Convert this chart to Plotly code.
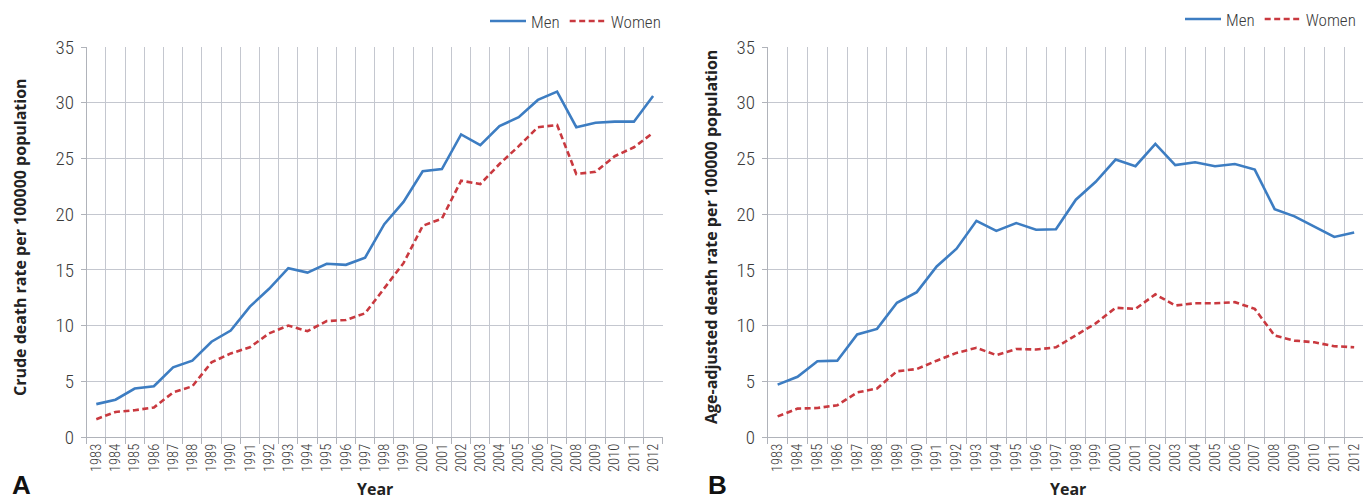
import plotly.graph_objects as go

# ---------------- data ----------------
years = ["1983", "1984", "1985", "1986", "1987", "1988", "1989", "1990", "1991", "1992",
         "1993", "1994", "1995", "1996", "1997", "1998", "1999", "2000", "2001", "2002",
         "2003", "2004", "2005", "2006", "2007", "2008", "2009", "2010", "2011", "2012"]

crude_men = [2.95, 3.35, 4.35, 4.55, 6.25, 6.85, 8.55, 9.55, 11.7, 13.3,
             15.15, 14.75, 15.55, 15.45, 16.1, 19.1, 21.1, 23.85, 24.05, 27.15,
             26.2, 27.9, 28.7, 30.25, 31.0, 27.8, 28.2, 28.3, 28.3, 30.6]
crude_women = [1.6, 2.25, 2.4, 2.65, 4.0, 4.55, 6.7, 7.5, 8.05, 9.3,
               10.0, 9.5, 10.4, 10.5, 11.1, 13.4, 15.6, 18.95, 19.6, 23.0,
               22.7, 24.5, 26.1, 27.8, 28.0, 23.6, 23.8, 25.2, 26.0, 27.3]

adj_men = [4.7, 5.4, 6.8, 6.85, 9.2, 9.7, 12.05, 13.0, 15.3, 16.9,
           19.4, 18.5, 19.2, 18.6, 18.65, 21.3, 22.9, 24.9, 24.3, 26.3,
           24.4, 24.65, 24.3, 24.5, 24.0, 20.45, 19.8, 18.9, 17.95, 18.35]
adj_women = [1.85, 2.55, 2.6, 2.85, 4.0, 4.35, 5.9, 6.1, 6.85, 7.55,
             8.0, 7.35, 7.9, 7.85, 8.05, 9.1, 10.2, 11.6, 11.5, 12.8,
             11.8, 12.0, 12.0, 12.1, 11.5, 9.1, 8.65, 8.5, 8.15, 8.05]

series_names = ["Men", "Women"]
y_ticks = [0, 5, 10, 15, 20, 25, 30, 35]
y_title_a = "Crude death rate per 100000 population"
y_title_b = "Age-adjusted death rate per 100000 population"
x_title = "Year"
panel_labels = ["A", "B"]

# ---------------- style ----------------
W, H = 1363, 499
PLOT_TOP, PLOT_BOTTOM = 47, 437
BLUE = "#3d7dc2"
RED = "#c9393f"
GRID = "#c4c7cf"
AXIS = "#b0b3ba"
TXT = "#3a3a3a"
COND = "Roboto Condensed, DejaVu Sans Condensed, sans-serif"
BOLD = "Open Sans, Noto Sans, DejaVu Sans, sans-serif"


def px_x(p):
    return p / W


def py_paper(p):
    # pixel row -> paper fraction of the plotting band between margins
    return (PLOT_BOTTOM - p) / (PLOT_BOTTOM - PLOT_TOP)


fig = go.Figure()

panels = [
    (crude_men, crude_women, "x", "y", "legend"),
    (adj_men, adj_women, "x2", "y2", "legend2"),
]
for men, women, xa, ya, lg in panels:
    fig.add_trace(go.Scatter(x=years, y=men, mode="lines", name=series_names[0],
                             line=dict(color=BLUE, width=2.6),
                             xaxis=xa, yaxis=ya, legend=lg))
    fig.add_trace(go.Scatter(x=years, y=women, mode="lines", name=series_names[1],
                             line=dict(color=RED, width=2.6, dash="6px,3.5px"),
                             xaxis=xa, yaxis=ya, legend=lg))

xcommon = dict(
    type="category", tickson="boundaries", showgrid=True, gridcolor=GRID, gridwidth=1,
    showline=True, linecolor=AXIS, linewidth=1, ticks="outside", ticklen=6,
    tickcolor=AXIS, tickangle=-90,
    tickfont=dict(family=COND, size=14.5, color=TXT, weight=300),
    zeroline=False, fixedrange=True, automargin=False,
)
ycommon = dict(
    range=[0, 35], tickvals=y_ticks, showgrid=True, gridcolor=GRID, gridwidth=1,
    showline=True, linecolor=AXIS, linewidth=1, ticks="outside", ticklen=5,
    tickcolor=AXIS, tickfont=dict(family=COND, size=19, color=TXT, weight=300),
    zeroline=False, fixedrange=True, ticklabelstandoff=3, automargin=False,
)

left_l, left_r = 86.7, 662.7
right_l = 767.7
right_step = 19.88
right_range_end = -0.5 + (W - right_l) / right_step

legend_common = dict(orientation="h", xanchor="right", yanchor="middle", yref="container",
                     font=dict(family=COND, size=17, color=TXT, weight=300),
                     bgcolor="rgba(0,0,0,0)", itemwidth=36, tracegroupgap=0)

fig.update_layout(
    width=W, height=H,
    margin=dict(l=0, r=0, t=PLOT_TOP, b=H - PLOT_BOTTOM, autoexpand=False),
    paper_bgcolor="white", plot_bgcolor="white",
    xaxis=dict(xcommon, domain=[px_x(left_l), px_x(left_r)], anchor="y", range=[-0.5, 29.5]),
    yaxis=dict(ycommon, domain=[0, 1], anchor="x"),
    xaxis2=dict(xcommon, domain=[px_x(right_l), 1.0], anchor="y2", range=[-0.5, right_range_end]),
    yaxis2=dict(ycommon, domain=[0, 1], anchor="x2"),
    legend=dict(legend_common, x=px_x(666), y=1 - 21.5 / H),
    legend2=dict(legend_common, x=px_x(1361), y=1 - 19.5 / H),
    showlegend=True,
)

annots = [
    dict(text=f"<b>{y_title_a}</b>", x=px_x(20), y=py_paper(237), textangle=-90,
         font=dict(family=BOLD, size=16, color="#222222")),
    dict(text=f"<b>{y_title_b}</b>", x=px_x(711), y=py_paper(237), textangle=-90,
         font=dict(family=BOLD, size=16, color="#222222")),
    dict(text=f"<b>{x_title}</b>", x=px_x((left_l + left_r) / 2), y=py_paper(488.5),
         font=dict(family=BOLD, size=16, color="#222222")),
    dict(text=f"<b>{x_title}</b>", x=px_x(1067.7), y=py_paper(488.5),
         font=dict(family=BOLD, size=16, color="#222222")),
    dict(text=f"<b>{panel_labels[0]}</b>", x=px_x(21), y=py_paper(485),
         font=dict(family="Liberation Sans, Arial, sans-serif", size=26, color="#111111")),
    dict(text=f"<b>{panel_labels[1]}</b>", x=px_x(717), y=py_paper(485),
         font=dict(family="Liberation Sans, Arial, sans-serif", size=26, color="#111111")),
]
for a in annots:
    fig.add_annotation(xref="paper", yref="paper", showarrow=False,
                       xanchor="center", yanchor="middle", **a)

fig.write_html(
    "out.html",
    config={"displayModeBar": False, "staticPlot": True},
    post_script="document.body.style.margin='0px';document.body.style.padding='0px';"
                "document.body.style.overflow='hidden';",
)
